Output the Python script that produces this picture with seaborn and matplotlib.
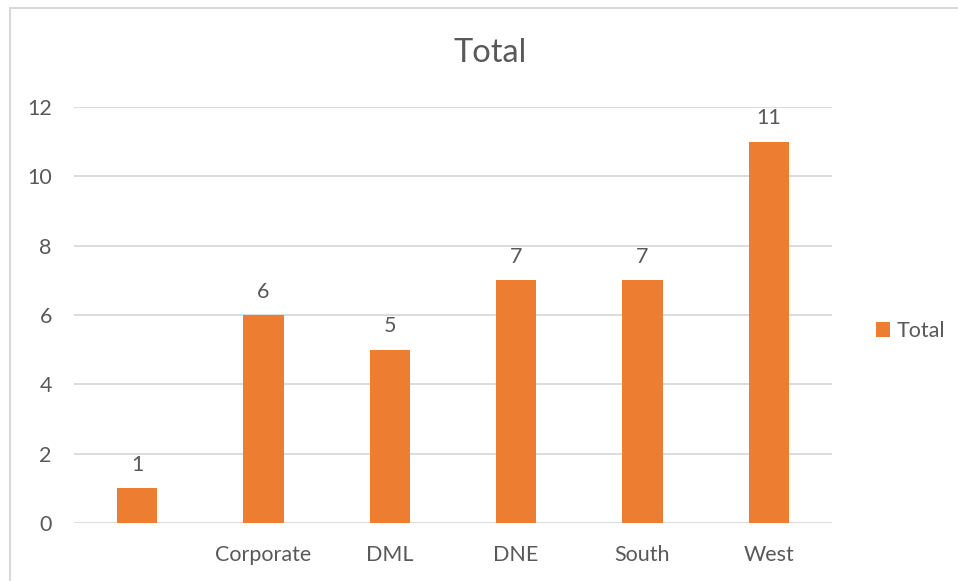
import pandas as pd
import numpy as np
import matplotlib
matplotlib.use("Agg")
import matplotlib.pyplot as plt
import seaborn as sns
from matplotlib.lines import Line2D
from matplotlib.patches import Patch

# Values
categories = ["", "Corporate", "DML", "DNE", "South", "West"]
totals = [1, 6, 5, 7, 7, 11]
yticks = [0, 2, 4, 6, 8, 10, 12]

data = pd.DataFrame({"Region": categories, "Total": totals})

sns.set_theme(style="white")
plt.rcParams['font.family'] = ['Lato', 'DejaVu Sans']

text_color = "#595959"
bar_color = "#ED7D31"
grid_color = "#D9D9D9"

fig = plt.figure(figsize=(9.58, 5.81), dpi=100)
ax = fig.add_axes([74 / 958, 58 / 581, 758 / 958, 416 / 581])

sns.barplot(data=data, x="Region", y="Total", color=bar_color,
            width=0.32, saturation=1, linewidth=0, ax=ax)

ax.set_ylim(0, 12)
ax.set_xlim(-0.5, len(categories) - 0.5)
ax.set_yticks(yticks)
ax.yaxis.grid(True, color=grid_color, linewidth=1.3)
ax.set_axisbelow(True)
for s in ax.spines.values():
    s.set_visible(False)
ax.set_xlabel("")
ax.set_ylabel("")
ax.tick_params(axis="both", length=0, labelsize=15.5, colors=text_color)
ax.tick_params(axis="y", pad=16)
ax.tick_params(axis="x", pad=15.5)

# Data labels above bars
for i, v in enumerate(totals):
    ax.text(i, v + 0.38, str(v), ha="center", va="bottom",
            fontsize=15.5, color=text_color)

fig.text(490 / 958, 1 - 53 / 581, "Total", ha="center", va="center",
         fontsize=23.5, color=text_color)

handles = [Patch(facecolor=bar_color, edgecolor="none", label="Total")]
fig.legend(handles=handles, loc="center left", bbox_to_anchor=(857 / 958, 1 - 331 / 581),
           frameon=False, fontsize=15.5, labelcolor=text_color,
           handlelength=0.65, handleheight=0.65, handletextpad=0.3)

# Chart area border (only left/top visible in the crop)
fig.add_artist(Line2D([9.5 / 958, 9.5 / 958], [0, 1 - 8 / 581], color=grid_color,
                      linewidth=1.5, transform=fig.transFigure))
fig.add_artist(Line2D([9.5 / 958, 1], [1 - 8 / 581, 1 - 8 / 581], color=grid_color,
                      linewidth=1.5, transform=fig.transFigure))

fig.savefig("out.png", dpi=100)
